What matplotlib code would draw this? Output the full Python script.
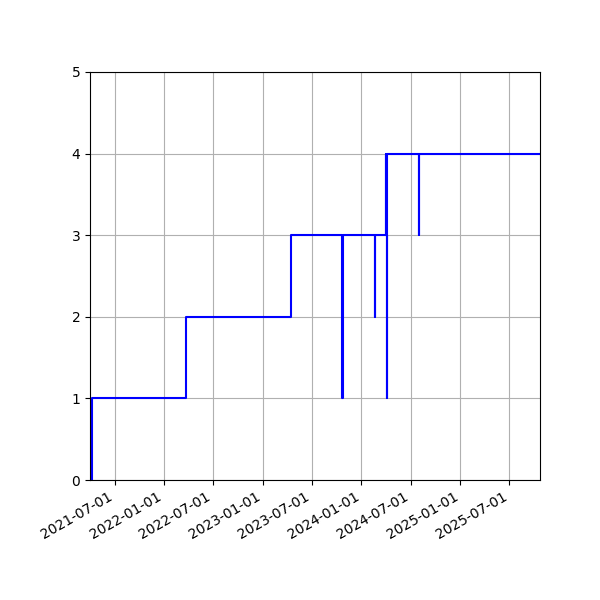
import matplotlib
matplotlib.use('Agg')
import matplotlib.pyplot as plt
import matplotlib.dates as mdates
import pandas as pd

# change dates and level after each change
dates = ['2021-04-01', '2021-04-08', '2022-03-22', '2023-04-14',
         '2023-10-20', '2023-10-24', '2024-02-19', '2024-02-21',
         '2024-03-31', '2024-04-02', '2024-04-05', '2024-04-06',
         '2024-07-31', '2024-08-02', '2025-10-23']
levels = [0, 1, 2, 3,
          1, 3, 2, 3,
          4, 3, 1, 4,
          3, 4, 4]

dates = pd.to_datetime(dates)

fig = plt.figure(figsize=(6, 6), dpi=100)
ax = fig.add_axes([0.15, 0.2, 0.75, 0.68])
ax.step(dates, levels, where='post', color='blue')
ax.set_xlim(dates[0], dates[-1])
ax.set_ylim(0, 5)
ax.set_yticks(range(6))
ax.xaxis.set_major_locator(mdates.MonthLocator(bymonth=[1, 7]))
ax.xaxis.set_major_formatter(mdates.DateFormatter('%Y-%m-%d'))
ax.grid(True)
for lbl in ax.get_xticklabels():
    lbl.set_rotation(30)
    lbl.set_ha('right')
fig.savefig('out.png')
plt.close()
